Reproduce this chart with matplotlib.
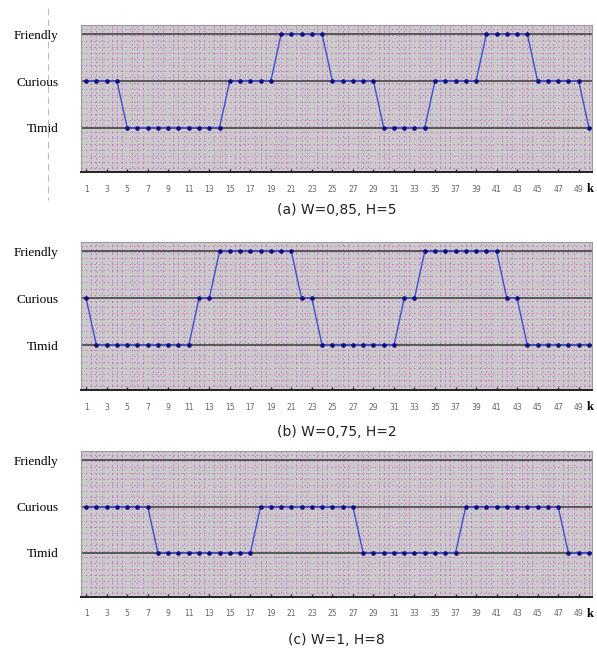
import numpy as np
import matplotlib.pyplot as plt

# estados: 0 = Timid, 1 = Curious, 2 = Friendly
k = np.arange(1, 51)

state_a = [1]*4 + [0]*10 + [1]*5 + [2]*5 + [1]*5 + [0]*5 + [1]*5 + [2]*5 + [1]*5 + [0]*1
state_b = [1]*1 + [0]*10 + [1]*2 + [2]*8 + [1]*2 + [0]*8 + [1]*2 + [2]*8 + [1]*2 + [0]*7
state_c = [1]*7 + [0]*10 + [1]*10 + [0]*10 + [1]*10 + [0]*3

level_names = ['Timid', 'Curious', 'Friendly']
captions = ['(a) W=0,85, H=5', '(b) W=0,75, H=2', '(c) W=1, H=8']
xticks = list(range(1, 50, 2))

fig = plt.figure(figsize=(5.97, 6.52), dpi=100)

# posiciones de los paneles en pixeles: (top, bottom, caption_y)
panels = [(25, 172, 210), (242, 390, 432), (451, 597, 640)]
left_px, right_px = 81, 592
W, H = 597.0, 652.0

for series, cap, (top, bot, cy) in zip([state_a, state_b, state_c], captions, panels):
    ax = fig.add_axes([left_px / W, 1 - bot / H, (right_px - left_px) / W, (bot - top) / H])
    ax.set_facecolor('#cacaca')

    # textura punteada rosa del fondo
    ax.set_xticks(np.arange(0.5, 51, 0.5), minor=True)
    ax.set_yticks(np.arange(-1, 2.3, 0.13), minor=True)
    ax.grid(which='minor', color='#d35fd3', linestyle=(0, (1.5, 3)), linewidth=0.7, alpha=0.9)
    ax.tick_params(which='minor', length=0)

    for lv in [0, 1, 2]:
        ax.axhline(lv, color='#3a3a3a', linewidth=1.1, zorder=2)

    ax.plot(k, series, color='#3c50d0', linewidth=1.0, zorder=3,
            marker='o', markersize=2.3, markerfacecolor='#101080', markeredgecolor='#101080')

    ax.set_xlim(0.5, 50.3)
    ax.set_ylim(-0.95, 2.2)
    ax.set_yticks([0, 1, 2])
    ax.set_yticklabels(level_names, family='Liberation Serif', fontsize=9.5)
    ax.tick_params(axis='y', length=0, pad=16)
    ax.set_xticks(xticks)
    ax.set_xticklabels([str(t) for t in xticks], fontsize=5.5, color='#666666')
    ax.tick_params(axis='x', length=2, width=1, color='#222222', pad=9, direction='in')

    for s in ['top', 'left', 'right']:
        ax.spines[s].set_color('#9a9a9a')
        ax.spines[s].set_linewidth(0.8)
    ax.spines['bottom'].set_color('#222222')
    ax.spines['bottom'].set_linewidth(1.4)

    fig.text((left_px + right_px) / 2 / W, 1 - cy / H, cap, ha='center', va='center',
             fontsize=10, color='#222222')
    fig.text(590 / W, 1 - (bot + 17) / H, 'k', ha='center', va='center',
             fontsize=9, family='Liberation Serif', fontweight='bold')

# linea discontinua tenue a la izquierda
fig.add_artist(plt.Line2D([48 / W, 48 / W], [1 - 8 / H, 1 - 200 / H], color='#bbbbbb',
                          linewidth=0.8, linestyle=(0, (6, 4))))

plt.savefig('out.png', dpi=100)
